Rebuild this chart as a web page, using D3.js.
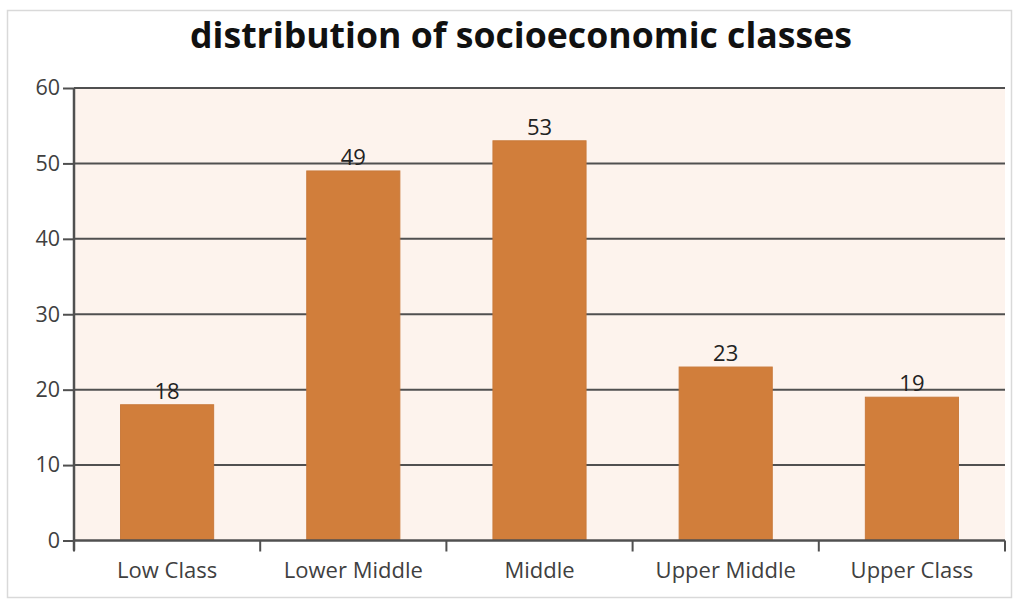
<!DOCTYPE html>
<html><head><meta charset="utf-8">
<script src="https://cdn.jsdelivr.net/npm/d3@7"></script>
<style>html,body{margin:0;padding:0;background:#fff;}svg{display:block;}</style>
</head><body>
<svg id="c" width="1017" height="603"></svg>
<script>
const categories = ["Low Class","Lower Middle","Middle","Upper Middle","Upper Class"];
const values = [18,49,53,23,19];
const yTicks = [0,10,20,30,40,50,60];
const title = "distribution of socioeconomic classes";

const svg = d3.select("#c");
const font = "'Open Sans', sans-serif";
const m = {left:74, right:1005, top:88, bottom:540.5};

svg.append("rect").attr("x",7.5).attr("y",10.5).attr("width",1004).attr("height",587)
  .attr("fill","#fff").attr("stroke","#d9d9d9").attr("stroke-width",1.5);

const x = d3.scaleBand().domain(categories).range([m.left,m.right]).paddingInner(0.5).paddingOuter(0.25);
const y = d3.scaleLinear().domain([0,60]).range([m.bottom,m.top]);

svg.append("rect").attr("x",m.left).attr("y",m.top).attr("width",m.right-m.left).attr("height",m.bottom-m.top)
  .attr("fill","#fdf3ed");

// gridlines
svg.append("g").selectAll("line").data(yTicks.filter(d=>d>0)).join("line")
  .attr("x1",m.left).attr("x2",m.right).attr("y1",d=>y(d)).attr("y2",d=>y(d))
  .attr("stroke","#505050").attr("stroke-width",2);

// bars
svg.append("g").selectAll("rect").data(values).join("rect")
  .attr("x",(d,i)=>x(categories[i])).attr("width",x.bandwidth())
  .attr("y",d=>y(d)).attr("height",d=>y(0)-y(d))
  .attr("fill","#d17e3b").attr("stroke","#c97a3b").attr("stroke-width",1);

// value labels
svg.append("g").selectAll("text").data(values).join("text")
  .attr("x",(d,i)=>x(categories[i])+x.bandwidth()/2).attr("y",d=>y(d)-6)
  .attr("text-anchor","middle").attr("font-family",font).attr("font-size",22).attr("fill","#222")
  .text(d=>d);

// y axis
const ya = svg.append("g").attr("transform",`translate(${m.left},0)`)
  .call(d3.axisLeft(y).tickValues(yTicks).tickSize(11).tickPadding(3));
ya.select(".domain").attr("stroke","#505050").attr("stroke-width",2.5).attr("d",`M0,${m.top}V${m.bottom+10}`);
ya.selectAll(".tick line").attr("stroke","#505050").attr("stroke-width",2);
ya.selectAll(".tick text").attr("font-family",font).attr("font-size",21.5).attr("fill","#404040");

// x axis
const xa = svg.append("g").attr("transform",`translate(0,${m.bottom})`)
  .call(d3.axisBottom(x).tickSize(0).tickPadding(22));
xa.select(".domain").attr("stroke","#505050").attr("stroke-width",2.5).attr("d",`M${m.left},0H${m.right}`);
xa.selectAll(".tick text").attr("font-family",font).attr("font-size",22).attr("fill","#404040");
const bounds = d3.range(categories.length+1).map(i=>m.left + i*(m.right-m.left)/categories.length);
xa.append("g").selectAll("line").data(bounds).join("line")
  .attr("x1",d=>d).attr("x2",d=>d).attr("y1",0).attr("y2",11)
  .attr("stroke","#505050").attr("stroke-width",2);

svg.append("text").attr("x",521).attr("y",48).attr("text-anchor","middle")
  .attr("font-family",font).attr("font-weight","bold").attr("font-size",35).attr("fill","#111")
  .attr("textLength",662).attr("lengthAdjust","spacingAndGlyphs")
  .text(title);
</script>
</body></html>
